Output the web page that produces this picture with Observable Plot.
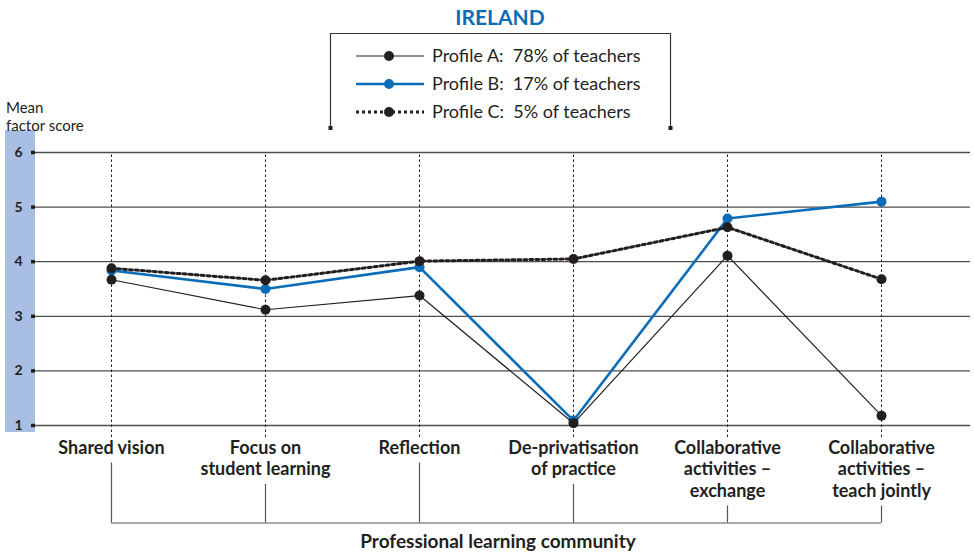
<!DOCTYPE html>
<html>
<head>
<meta charset="utf-8">
<script src="https://cdn.jsdelivr.net/npm/d3@7"></script>
<script src="https://cdn.jsdelivr.net/npm/@observablehq/plot@0.6"></script>
<style>
  html, body { margin: 0; padding: 0; background: #fff; }
  #wrap { position: relative; width: 974px; height: 554px; font-family: Lato, "Open Sans", sans-serif; color: #231f20; }
  #wrap svg { position: absolute; left: 0; top: 0; }
  .ov { position: absolute; white-space: nowrap; }
</style>
</head>
<body>
<div id="wrap"></div>
<script>
// ---- data ----
const categories = [
  "Shared vision",
  "Focus on\nstudent learning",
  "Reflection",
  "De-privatisation\nof practice",
  "Collaborative\nactivities –\nexchange",
  "Collaborative\nactivities –\nteach jointly"
];
const profileA = [3.67, 3.12, 3.38, 1.04, 4.11, 1.18];
const profileB = [3.84, 3.50, 3.90, 1.09, 4.79, 5.10];
const profileC = [3.88, 3.66, 4.01, 4.05, 4.63, 3.68];
const seriesNames = ["Profile A:  78% of teachers", "Profile B:  17% of teachers", "Profile C:  5% of teachers"];
const yTicks = [1, 2, 3, 4, 5, 6];
const title = "IRELAND";
const yLabel = ["Mean", "factor score"];
const xLabel = "Professional learning community";

// ---- styles ----
const BLUE = "#0b6db7";
const INK = "#231f20";
const GRID = "#4d4d4d";
const BAND = "#a9bee3";

const yDomain = [1, 6], yRange = [425, 152];
const py = px => yDomain[0] + (yRange[0] - px) * (yDomain[1] - yDomain[0]) / (yRange[0] - yRange[1]);

const rows = (vals) => vals.map((v, i) => ({cat: categories[i], v}));
const A = rows(profileA), B = rows(profileB), C = rows(profileC);
const lineCount = categories.map(c => c.split("\n").length);
const LH = 21.5;
const brackets = categories.map((c, i) => ({cat: c, top: py(438 + lineCount[i] * LH + 3), bottom: py(522.5)}));

const chart = Plot.plot({
  width: 974,
  height: 554,
  marginTop: 152,
  marginBottom: 129,
  marginLeft: 35,
  marginRight: 4,
  style: {background: "transparent", fontFamily: "Lato, sans-serif", color: INK},
  x: {type: "point", domain: categories, range: [110, 881], padding: 0, axis: null},
  y: {domain: yDomain, range: yRange, axis: null},
  marks: [
    Plot.ruleY(yTicks, {stroke: GRID, strokeWidth: 1.3}),
    Plot.ruleX(categories, {x: d => d, y1: py(437), y2: 6, stroke: INK, strokeWidth: 1, strokeDasharray: "2.5,2.5"}),
    Plot.axisY(yTicks, {anchor: "left", tickSize: 4, strokeWidth: 3.5, stroke: INK, tickPadding: 9, fontSize: 14, fontWeight: "bold", label: null, tickFormat: d => String(d)}),
    // brackets
    Plot.ruleX(brackets, {x: "cat", y1: "top", y2: "bottom", stroke: "#555", strokeWidth: 1.2}),
    Plot.ruleY([py(522.5)], {x1: () => categories[0], x2: () => categories[5], stroke: "#555", strokeWidth: 1.2}),
    // category labels
    Plot.text(categories, {x: d => d, y: 1, dy: 13, lineAnchor: "top", lineHeight: LH / 18, fontSize: 18, fontWeight: "bold", fill: INK, text: d => d}),
    Plot.text([xLabel], {y: py(541), dx: -5, text: d => d, fontSize: 19, fontWeight: "bold", fill: INK}),
    // series
    Plot.line(B, {x: "cat", y: "v", stroke: BLUE, strokeWidth: 2.6}),
    Plot.dot(B, {x: "cat", y: "v", r: 5, fill: BLUE}),
    Plot.line(A, {x: "cat", y: "v", stroke: INK, strokeWidth: 1.2}),
    Plot.dot(A, {x: "cat", y: "v", r: 5, fill: INK}),
    Plot.line(C, {x: "cat", y: "v", stroke: INK, strokeWidth: 3, strokeDasharray: "3,3"}),
    Plot.dot(C, {x: "cat", y: "v", r: 5, fill: INK})
  ]
});

const wrap = document.getElementById("wrap");
wrap.appendChild(chart);

// blue band behind the axis
d3.select(chart).insert("rect", ":first-child")
  .attr("x", 5).attr("y", 130).attr("width", 30).attr("height", 302).attr("fill", BAND);

// title
const t = document.createElement("div");
t.className = "ov";
t.textContent = title;
Object.assign(t.style, {left: "0px", width: "1000px", textAlign: "center", top: "4px", fontSize: "21px", fontWeight: "bold", color: BLUE});
wrap.appendChild(t);

// y label
const yl = document.createElement("div");
yl.className = "ov";
yl.innerHTML = yLabel.join("<br>");
Object.assign(yl.style, {left: "6px", top: "98px", fontSize: "15px", lineHeight: "18px", color: INK});
wrap.appendChild(yl);

// legend
const lg = d3.select(wrap).append("svg")
  .attr("width", 974).attr("height", 140)
  .style("position", "absolute").style("left", "0px").style("top", "0px");
lg.append("path").attr("d", "M330.5,128 V33.5 H670.5 V128").attr("fill", "none").attr("stroke", "#333").attr("stroke-width", 1.2);
lg.append("rect").attr("x", 328.5).attr("y", 126).attr("width", 4).attr("height", 4).attr("fill", INK);
lg.append("rect").attr("x", 668.5).attr("y", 126).attr("width", 4).attr("height", 4).attr("fill", INK);
const legStyles = [
  {stroke: INK, w: 1.2, dash: null, fill: INK},
  {stroke: BLUE, w: 2.6, dash: null, fill: BLUE},
  {stroke: INK, w: 3, dash: "3,3", fill: INK}
];
seriesNames.forEach((name, i) => {
  const y = 56 + i * 28;
  const s = legStyles[i];
  lg.append("line").attr("x1", 356).attr("x2", 424).attr("y1", y).attr("y2", y)
    .attr("stroke", s.stroke).attr("stroke-width", s.w).attr("stroke-dasharray", s.dash);
  lg.append("circle").attr("cx", 389).attr("cy", y).attr("r", 5).attr("fill", s.fill);
  lg.append("text").attr("x", 432).attr("y", y).attr("dy", "0.35em")
    .attr("font-size", 18).attr("font-family", "Lato, sans-serif").attr("fill", INK)
    .style("white-space", "pre").text(name);
});
</script>
</body>
</html>
